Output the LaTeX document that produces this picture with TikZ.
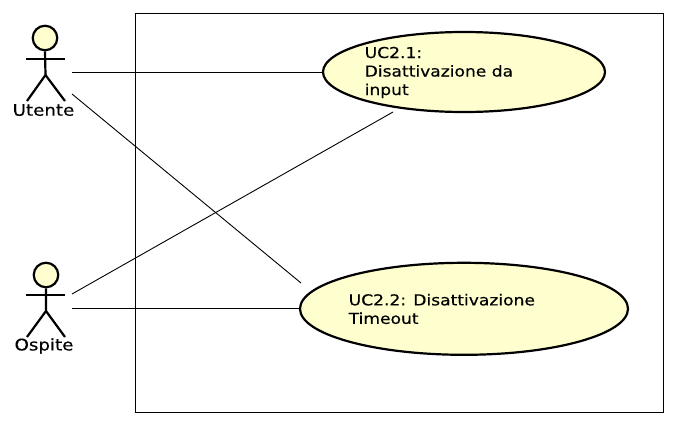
\documentclass[tikz,border=0pt]{standalone}
\usepackage{fontspec}
\setmainfont[FakeStretch=1.14,FakeBold=0.3]{DejaVu Sans}
\usetikzlibrary{shapes.geometric}

\tikzset{
  usecase/.style = {draw = black,line width = 2.2pt,fill = ucfill,ellipse,inner sep = 0pt},
  uctext/.style = {align = left,anchor = west,inner sep = 0pt,font = \fontsize{15}{18.5}\selectfont},
  actorhead/.style = {draw = black,line width = 2.2pt,fill = ucfill,circle,inner sep = 0pt,minimum size = 24.5pt},
  actorlimb/.style = {line width = 2.2pt},
  actorname/.style = {inner sep = 0pt,font = \fontsize{16}{18}\selectfont},
  link/.style = {line width = 0.9pt}
}
\definecolor{ucfill}{HTML}{FEFECE}

\begin{document}
\begin{tikzpicture}[x = 1pt,y = -1pt]
    \useasboundingbox (0,0) rectangle (677,426);
    \node[draw = black,line width = 0.9pt,minimum width = 528pt,minimum height = 399pt,inner sep = 0pt](system) at (399.5,213) {};

    \node[usecase,minimum width = 282pt,minimum height = 80pt](disattivazioneInput) at (464,72) {};
    \node[uctext](inputText) at (364.5,72.5) {UC2.1:\\Disattivazione da\\input};
    \node[usecase,minimum width = 328pt,minimum height = 92pt](disattivazioneTimeout) at (464,308.8) {};
    \node[uctext](timeoutText) at (348.5,309) {UC2.2: Disattivazione\\Timeout};

    % Utente
    \node[actorhead](utenteHead) at (45,38) {};
    \coordinate (utenteHip) at (45.5,75);
    \coordinate (utenteArmL) at (26,59);
    \coordinate (utenteArmR) at (65,59);
    \coordinate (utenteFootL) at (27,101);
    \coordinate (utenteFootR) at (65,101);
    \draw[actorlimb] (utenteHead.south) -- (utenteHip) -- (utenteFootL);
    \draw[actorlimb] (utenteHip) -- (utenteFootR);
    \draw[actorlimb] (utenteArmL) -- (utenteArmR);
    \node[actorname](utenteName) at (43.5,110) {Utente};

    % Ospite
    \node[actorhead](ospiteHead) at (46,275) {};
    \coordinate (ospiteHip) at (46,311);
    \coordinate (ospiteArmL) at (26,295);
    \coordinate (ospiteArmR) at (65,295);
    \coordinate (ospiteFootL) at (27,337);
    \coordinate (ospiteFootR) at (65,337);
    \draw[actorlimb] (ospiteHead.south) -- (ospiteHip) -- (ospiteFootL);
    \draw[actorlimb] (ospiteHip) -- (ospiteFootR);
    \draw[actorlimb] (ospiteArmL) -- (ospiteArmR);
    \node[actorname](ospiteName) at (44,346) {Ospite};

    \coordinate (utenteOutA) at (72,72);
    \coordinate (utenteOutB) at (72,94);
    \coordinate (ospiteOutA) at (72,294);
    \coordinate (ospiteOutB) at (72,308.8);
    \coordinate (inputEnd) at (393,112);
    \coordinate (timeoutEnd) at (301,283);

    \draw[link] (utenteOutA) -- (disattivazioneInput.west);
    \draw[link] (utenteOutB) -- (timeoutEnd);
    \draw[link] (ospiteOutA) -- (inputEnd);
    \draw[link] (ospiteOutB) -- (disattivazioneTimeout.west);
\end{tikzpicture}
\end{document}
